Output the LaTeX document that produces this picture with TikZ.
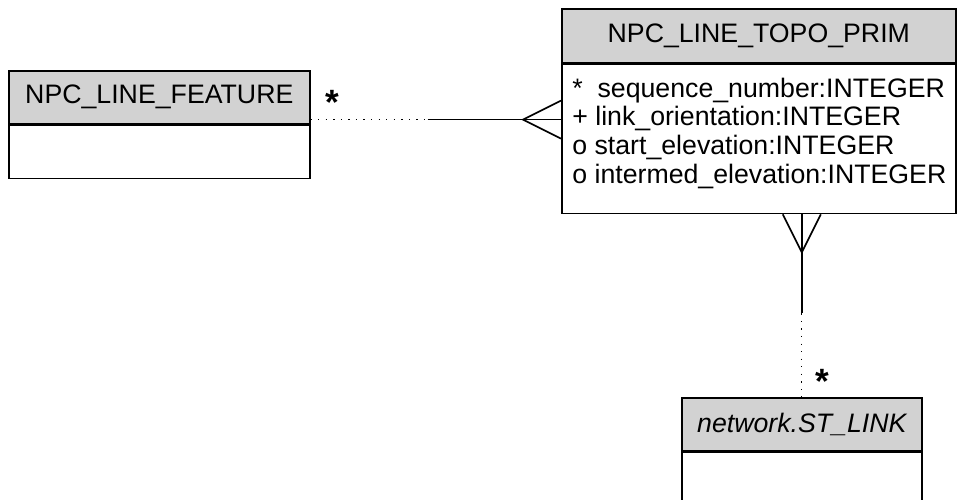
\documentclass[tikz,border=0pt]{standalone}
\usepackage{fontspec}
\setmainfont{Liberation Sans}
\usepackage{tikz}
\usetikzlibrary{positioning,calc}
\definecolor{cabecera}{RGB}{210,210,210}

\begin{document}
\begin{tikzpicture}[
  x=0.02cm, y=-0.02cm,
  caja/.style={rectangle, draw=black, line width=0.95pt, inner sep=0pt,
    anchor=north west, font=\fontsize{15.2}{17}\selectfont},
  cab/.style={caja, fill=cabecera},
  cuerpo/.style={caja, fill=white},
  atrib/.style={anchor=base west, inner sep=0pt, font=\fontsize{15.2}{17}\selectfont},
  linea/.style={line width=0.95pt},
  punteada/.style={line width=0.7pt, dash pattern=on 0.7pt off 3.6pt},
  mult/.style={inner sep=0pt, font=\fontsize{20}{20}\selectfont\bfseries},
]
\useasboundingbox (0,0) rectangle (957,500);

% clases
\node[cab, minimum width=6.02cm, minimum height=1.06cm] (featHead) at (8,70) {NPC\_LINE\_FEATURE};
\node[cuerpo, minimum width=6.02cm, minimum height=1.06cm] (featBody) at (featHead.south west) {};

\node[cab, minimum width=7.88cm, minimum height=1.08cm] (topoHead) at (561,8) {NPC\_LINE\_TOPO\_PRIM};
\node[cuerpo, minimum width=7.88cm, minimum height=2.98cm] (topoBody) at (topoHead.south west) {};
\foreach \t [count=\i from 0] in {*\ \ sequence\_number:INTEGER, + link\_orientation:INTEGER,
    o start\_elevation:INTEGER, o intermed\_elevation:INTEGER} {
  \node[atrib] (attr\i) at (572, {97.5+28.5*\i}) {\t};
}

\node[cab, minimum width=4.8cm, minimum height=1.06cm] (linkHead) at (681,397) {\itshape network.ST\_LINK};
\node[cuerpo, minimum width=4.8cm, minimum height=1.4cm] (linkBody) at (linkHead.south west) {};

% relacion horizontal
\coordinate (featEnd) at ($(featHead.south east)+(0,-5)$);
\coordinate (topoIn) at (topoBody.west |- featEnd);
\draw[punteada] (featEnd) -- ++(117,0) coordinate (featMid);
\draw[linea] (featMid) -- (topoIn);
\draw[linea] ($(topoIn)+(0,-19)$) -- ($(topoIn)+(-38,0)$) -- ($(topoIn)+(0,19)$);
\node[mult] (multFeat) at (332,102) {*};

% relacion vertical
\coordinate (topoOut) at (topoBody.south -| linkHead.north);
\draw[linea] (topoOut) -- ++(0,99) coordinate (linkMid);
\draw[punteada] (linkMid) -- (linkHead.north);
\draw[linea] ($(topoOut)+(-19,0)$) -- ($(topoOut)+(0,38)$) -- ($(topoOut)+(19,0)$);
\node[mult] (multLink) at (822,381) {*};
\end{tikzpicture}
\end{document}
